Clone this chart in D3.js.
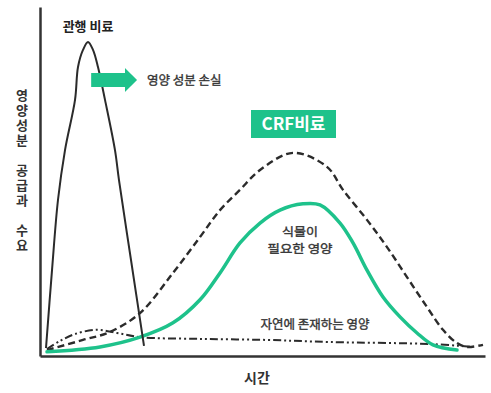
<!DOCTYPE html>
<html>
<head>
<meta charset="utf-8">
<script src="https://cdn.jsdelivr.net/npm/d3@7"></script>
<style>
  html, body { margin: 0; padding: 0; background: #fff; }
  svg { display: block; font-family: "Noto Sans CJK KR", "Noto Sans", sans-serif; }
</style>
</head>
<body>
<svg id="chart" width="491" height="393"></svg>
<script>
// ---- data (time 0-100, level 0-100) ----
const conventionalT = [1.35, 2.7, 4.04, 5.62, 7.87, 8.54, 9.66, 10.79, 11.91, 13.03, 14.61, 16.85, 17.75, 20.45, 23.37];
const conventionalV = [2.3, 24.6, 44.7, 59.0, 73.4, 82.8, 87.7, 90.0, 87.7, 82.8, 73.4, 59.0, 50.4, 27.5, 2.9];

const crfSupplyT = [1.57, 9.66, 15.73, 22.47, 29.89, 35.96, 40.45, 44.94, 49.44, 56.85, 64.49, 68.09, 73.48, 77.98, 82.47, 86.97, 90.56, 93.71, 95.96, 99.55];
const crfSupplyV = [1.7, 4.6, 6.9, 12.3, 23.8, 34.1, 41.8, 47.6, 53.3, 58.2, 54.2, 47.6, 39.0, 31.2, 22.6, 14.0, 7.5, 3.7, 2.6, 3.2];

const plantDemandT = [1.57, 13.48, 22.47, 29.89, 35.96, 40.45, 44.94, 49.44, 53.93, 59.1, 62.92, 67.42, 70.34, 73.48, 77.08, 80.9, 84.72, 88.31, 93.71];
const plantDemandV = [1.2, 2.6, 5.4, 9.5, 16.1, 23.8, 32.4, 38.1, 41.8, 43.6, 43.3, 38.1, 32.4, 24.6, 16.9, 11.2, 6.6, 3.2, 1.7];

const naturalT = [1.57, 4.49, 7.87, 12.81, 17.3, 22.47, 35.96, 51.01, 65.17, 88.31, 97.08];
const naturalV = [2.0, 4.3, 6.3, 7.5, 6.6, 5.4, 4.9, 4.6, 4.0, 3.4, 2.6];

const yLabel = "영양성분 공급과 수요";
const xLabel = "시간";
const conventionalLabel = "관행 비료";
const lossLabel = "영양 성분 손실";
const crfLabel = "CRF비료";
const demandLabel = ["식물이", "필요한 영양"];
const naturalLabel = "자연에 존재하는 영양";

// ---- scales ----
const svg = d3.select("#chart");
const x = d3.scaleLinear().domain([0, 100]).range([40, 485]);
const y = d3.scaleLinear().domain([0, 100]).range([356, 7]);

const zip = (ts, vs) => ts.map((t, i) => [t, vs[i]]);
const line = d3.line().x(d => x(d[0])).y(d => y(d[1])).curve(d3.curveCatmullRom.alpha(0.5));

const dark = "#2b2b2b";
const green = "#1ec28b";

// ---- axes (lines only) ----
svg.append("g").attr("transform", `translate(0,${y(0)})`)
  .call(d3.axisBottom(x).ticks(0).tickSizeOuter(0))
  .call(g => g.select(".domain").attr("stroke", "#333").attr("stroke-width", 2.5));
svg.append("g").attr("transform", `translate(${x(0)},0)`)
  .call(d3.axisLeft(y).ticks(0).tickSizeOuter(0))
  .call(g => g.select(".domain").attr("stroke", "#333").attr("stroke-width", 2.5));

// ---- series ----
svg.append("path").datum(zip(naturalT, naturalV))
  .attr("d", line).attr("fill", "none").attr("stroke", dark)
  .attr("stroke-width", 2).attr("stroke-dasharray", "8,3,2,3,2,3");

svg.append("path").datum(zip(crfSupplyT, crfSupplyV))
  .attr("d", line).attr("fill", "none").attr("stroke", dark)
  .attr("stroke-width", 2.4).attr("stroke-dasharray", "7,4");

svg.append("path").datum(zip(plantDemandT, plantDemandV))
  .attr("d", line).attr("fill", "none").attr("stroke", green)
  .attr("stroke-width", 3.5).attr("stroke-linecap", "round");

svg.append("path").datum(zip(conventionalT, conventionalV))
  .attr("d", line).attr("fill", "none").attr("stroke", dark)
  .attr("stroke-width", 2);

// ---- annotations ----
// y label: one upright vertical glyph per character
const yChars = Array.from(yLabel).map((c, i) => ({ c, i })).filter(d => d.c !== " ");
svg.append("g").selectAll("text").data(yChars).join("text")
  .attr("x", 22).attr("y", d => 89 + d.i * 15)
  .style("writing-mode", "vertical-rl")
  .style("text-orientation", "upright")
  .attr("font-size", 13).attr("font-weight", "bold").attr("fill", "#333")
  .text(d => d.c);

svg.append("text").attr("x", 257).attr("y", 383)
  .attr("text-anchor", "middle").attr("font-size", 14).attr("font-weight", "bold")
  .attr("fill", "#333").text(xLabel);

svg.append("text").attr("x", x(10.8)).attr("y", 31)
  .attr("text-anchor", "middle").attr("font-size", 13).attr("font-weight", "bold")
  .attr("fill", "#222").text(conventionalLabel);

// arrow
const ax0 = x(11.5), ax1 = x(19.1), ax2 = x(21.8);
const ayc = 80;
svg.append("path")
  .attr("d", `M${ax0},${ayc - 7} L${ax1},${ayc - 7} L${ax1},${ayc - 12} L${ax2},${ayc} L${ax1},${ayc + 12} L${ax1},${ayc + 7} L${ax0},${ayc + 7} Z`)
  .attr("fill", green);

const medium = sel => sel.attr("fill", "#333").attr("stroke", "#333").attr("stroke-width", 0.35);

svg.append("text").attr("x", 147).attr("y", 85)
  .attr("font-size", 12.5).call(medium).text(lossLabel);

// CRF box
svg.append("rect").attr("x", 251).attr("y", 110).attr("width", 85).attr("height", 28).attr("fill", green);
svg.append("text").attr("x", 293.5).attr("y", 130)
  .attr("text-anchor", "middle").attr("font-size", 17).attr("font-weight", "bold")
  .attr("fill", "#fff").text(crfLabel);

const demandWidths = [36, 65];
svg.append("g").selectAll("text").data(demandLabel).join("text")
  .attr("x", 300).attr("y", (d, i) => 236.2 + i * 16.8)
  .attr("text-anchor", "middle").attr("font-size", 11.5)
  .attr("textLength", (d, i) => demandWidths[i]).attr("lengthAdjust", "spacingAndGlyphs")
  .call(medium).text(d => d);

svg.append("text").attr("x", 315).attr("y", 329)
  .attr("text-anchor", "middle").attr("font-size", 12.5)
  .call(medium).text(naturalLabel);
</script>
</body>
</html>
